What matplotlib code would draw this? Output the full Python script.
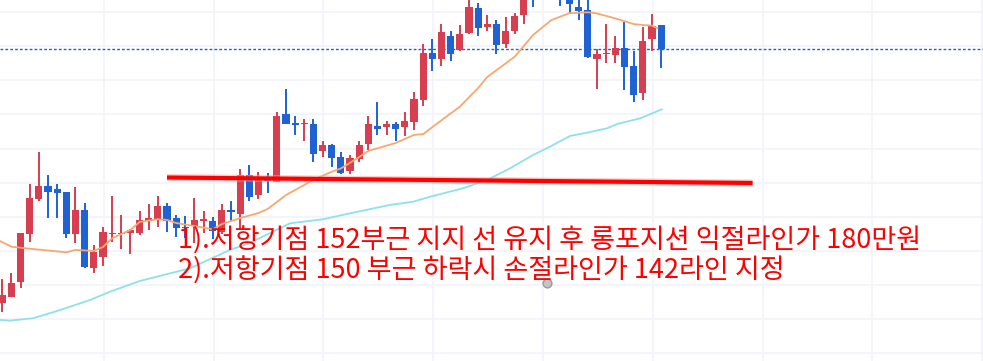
import matplotlib
matplotlib.use("Agg")
import matplotlib.pyplot as plt

# candle data (index 0 = leftmost candle)
opens = [144.92, 145.31, 146.19, 148.99, 151.04, 151.80, 151.63, 151.45, 149.00, 150.39,
         147.01, 147.65, 149.00, 148.98, 149.06, 149.06, 149.77, 149.86, 150.63, 149.92,
         149.41, 149.47, 149.77, 149.75, 149.12, 150.39, 150.16, 152.43, 151.29, 152.23,
         152.06, 156.04, 155.52, 155.42, 155.45, 153.87, 154.21, 153.50, 152.70, 153.41,
         154.29, 155.33, 155.29, 155.45, 155.29, 155.58, 156.86, 159.61, 159.27, 160.61,
         159.80, 160.78, 162.25, 161.12, 161.31, 160.16, 160.90, 161.82, 164.00, 163.20,
         164.20, 163.40, 163.30, 162.33, 162.13, 159.27, 159.53, 159.51, 159.90, 158.84,
         157.28, 160.43, 161.25]
highs = [146.33, 146.72, 149.05, 151.92, 153.78, 152.45, 151.92, 151.45, 151.74, 150.80,
         148.32, 149.38, 151.22, 150.10, 149.30, 150.35, 150.75, 151.22, 150.80, 150.10,
         150.04, 151.08, 150.35, 149.96, 150.73, 150.92, 152.80, 153.04, 152.65, 152.59,
         156.14, 157.50, 155.90, 155.73, 155.73, 154.44, 154.29, 153.80, 153.63, 154.44,
         155.91, 156.74, 155.62, 155.56, 156.15, 157.32, 160.14, 160.43, 161.31, 160.90,
         161.25, 162.90, 162.54, 161.84, 161.55, 161.72, 161.96, 163.40, 164.30, 164.30,
         164.60, 163.80, 163.70, 162.80, 162.75, 159.82, 161.31, 160.61, 161.43, 159.73,
         161.14, 161.87, 161.25]
lows = [144.42, 145.30, 145.84, 148.53, 150.94, 149.94, 149.94, 148.76, 148.43, 146.97,
        146.72, 147.12, 148.53, 148.12, 147.82, 148.95, 149.22, 149.41, 149.12, 148.79,
        148.73, 148.43, 149.03, 148.67, 148.99, 149.77, 149.26, 150.94, 151.06, 151.38,
        152.06, 155.46, 154.80, 154.46, 153.23, 153.53, 152.94, 152.53, 152.53, 153.23,
        153.94, 154.82, 154.82, 154.46, 154.74, 155.06, 156.52, 158.57, 158.86, 159.16,
        159.74, 160.72, 160.61, 160.90, 159.55, 159.90, 160.70, 161.31, 162.30, 162.90,
        162.90, 162.36, 161.94, 161.55, 159.33, 157.51, 159.04, 159.04, 157.45, 156.75,
        156.87, 159.74, 158.74]
closes = [145.40, 146.09, 149.03, 151.08, 151.80, 151.47, 151.41, 149.00, 150.39, 147.07,
          147.93, 149.10, 149.03, 149.03, 149.22, 149.81, 149.92, 150.63, 149.77, 149.35,
          149.32, 149.81, 149.80, 149.18, 150.39, 150.29, 152.43, 151.17, 152.20, 152.10,
          155.94, 155.46, 155.40, 155.45, 153.70, 154.21, 153.46, 152.59, 153.45, 154.21,
          155.45, 155.17, 155.45, 155.17, 155.62, 156.91, 159.61, 159.27, 160.84, 159.57,
          160.72, 162.31, 161.07, 161.31, 160.08, 160.90, 161.78, 163.10, 163.20, 163.90,
          163.30, 162.90, 162.48, 162.10, 159.39, 159.55, 159.57, 159.90, 158.80, 157.16,
          160.31, 161.17, 159.82]

# moving averages
ma_short_x = [-0.25, 1, 3, 7, 8, 10, 11, 12, 14, 15, 17, 18, 19, 22, 23, 24, 26, 28, 29, 31,
              34, 36, 37, 39, 40, 43, 45, 46, 47, 50, 52, 53, 56, 58, 60, 62, 64, 65, 67, 69,
              70, 71, 71.6]
ma_short_y = [148.57, 148.24, 148.12, 147.91, 148.05, 147.99, 148.22, 148.73, 149.22, 149.69,
              149.85, 149.81, 149.63, 149.36, 149.26, 149.57, 149.92, 150.22, 150.45, 151.27,
              152.16, 152.64, 152.83, 153.50, 153.86, 154.33, 154.80, 154.85, 155.26, 156.46,
              157.55, 158.20, 159.39, 160.66, 161.54, 161.95, 162.00, 161.93, 161.64, 161.31,
              161.25, 161.22, 161.06]
ma_long_x = [-0.25, 0.84, 3.36, 6.31, 9.58, 11.77, 15.05, 20.51, 24.89, 27.07, 31.44, 35.05,
             38.0, 42.37, 44.89, 46.74, 50.35, 52.97, 55.49, 58.0, 59.86, 62.04, 63.9, 66.09,
             67.18, 69.69, 72.07]
ma_long_y = [143.94, 143.90, 144.04, 144.52, 145.11, 145.60, 146.23, 146.97, 148.05, 148.46,
             149.61, 149.85, 150.20, 150.69, 150.88, 151.17, 151.67, 152.15, 152.84, 153.62,
             154.11, 154.74, 154.93, 155.19, 155.44, 155.77, 156.30]

# drawn support line and anchor point
support_x = [18.0, 82.0]
support_y = [152.30, 151.98]
anchor_x = [59.5]
anchor_y = [146.1]

notes = ["1).저항기점 152부근 지지 선 유지 후 롱포지션 익절라인가 180만원",
         "2).저항기점 150 부근 하락시 손절라인가 142라인 지정"]

UP = '#d73e50'
DOWN = '#1e62d4'

fig = plt.figure(figsize=(9.83, 3.61), dpi=100)
ax = fig.add_axes([0, 0, 1, 1])
ax.set_xlim(-0.25, 107.18)
ax.set_ylim(141.53, 162.72)

# grid
ax.set_xticks([11.1 + 12 * k for k in range(9)])
ax.set_yticks(range(142, 164, 2))
ax.grid(True, color='#f0f3fa', linewidth=1.1)
ax.tick_params(length=0, labelbottom=False, labelleft=False)
for s in ax.spines.values():
    s.set_visible(False)
ax.set_axisbelow(True)

idx = list(range(len(opens)))
cols = [UP if c >= o else DOWN for o, c in zip(opens, closes)]
ax.vlines(idx, lows, highs, colors=cols, linewidth=1.4, zorder=2)
bottoms = [min(o, c) for o, c in zip(opens, closes)]
heights = [max(abs(c - o), 0.07) for o, c in zip(opens, closes)]
ax.bar(idx, heights, bottom=bottoms, width=0.78, color=cols, zorder=3)

ax.plot(ma_short_x, ma_short_y, color='#f8a86e', linewidth=1.3, zorder=4)
ax.plot(ma_long_x, ma_long_y, color='#8ee0ec', linewidth=1.3, zorder=4)

# last price line
ax.axhline(closes[-1], color=DOWN, linewidth=1, linestyle=(0, (2, 1.5)), zorder=1)

ax.plot(support_x, support_y, color='#ff9a9a', linewidth=5, alpha=0.5,
        solid_capstyle='butt', zorder=5)
ax.plot(support_x, support_y, color='#ff0000', linewidth=3, solid_capstyle='butt', zorder=6)

ax.scatter(anchor_x, anchor_y, s=40, color='#c4c4c4', edgecolors='#9a9a9a',
           linewidths=1, zorder=7)

for k, t in enumerate(notes):
    ax.text(178 / 983, 1 - (241 + 29.5 * k) / 361, t, transform=ax.transAxes,
            color='#ff0000', fontsize=19.5, va='center', ha='left',
            family=['Noto Sans CJK KR', 'DejaVu Sans'], zorder=8)

fig.savefig('out.png', dpi=100)
